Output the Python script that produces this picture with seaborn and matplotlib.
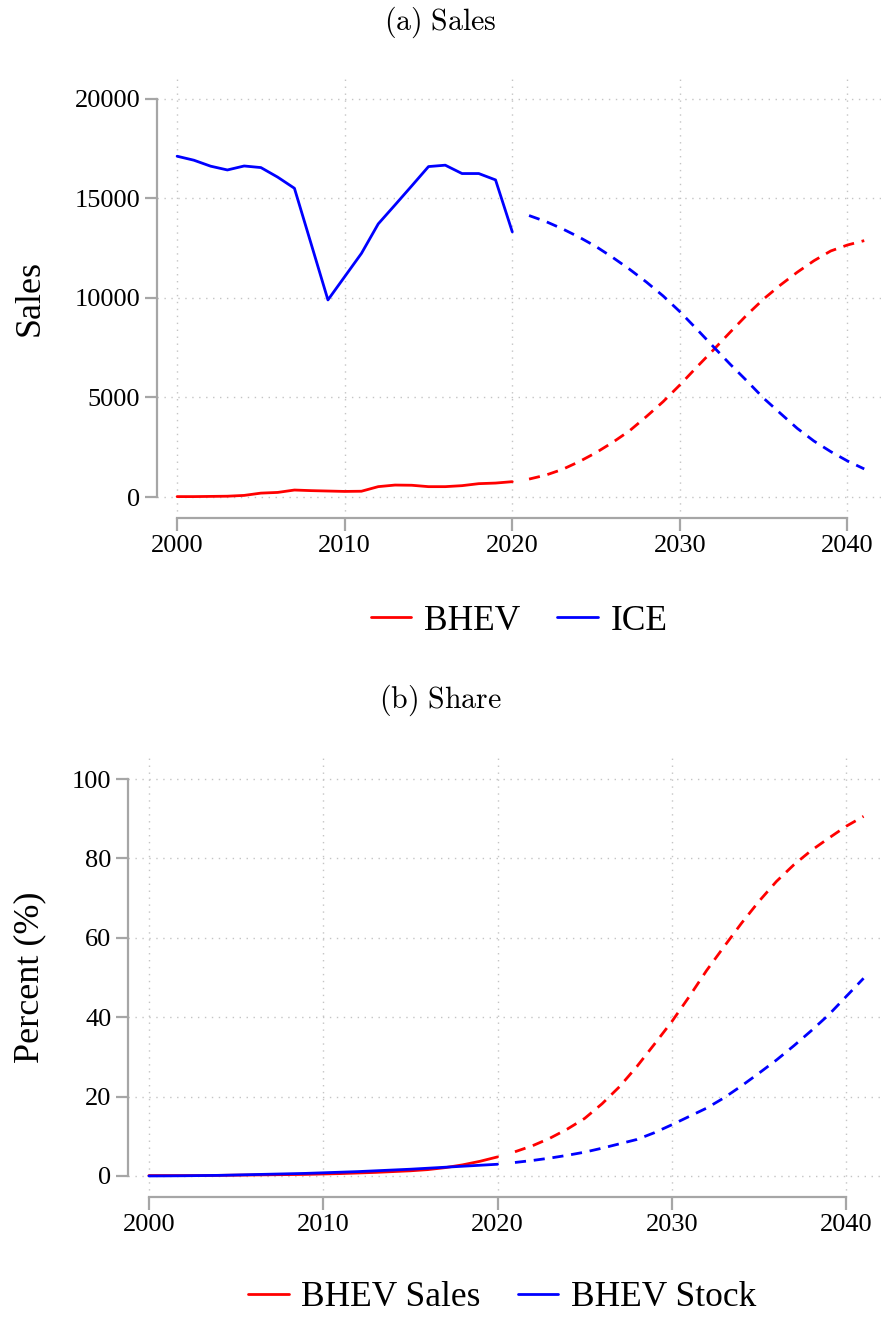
import pandas as pd
import matplotlib.pyplot as plt
import seaborn as sns

# %% data
years_hist = list(range(2000, 2021))
years_proj = list(range(2021, 2042))

bhev_sales_hist = [20, 20, 30, 40, 80, 195, 230, 350, 320, 300, 280, 290, 520, 600, 590,
                   520, 520, 570, 670, 700, 770]
ice_sales_hist = [17120, 16920, 16620, 16430, 16630, 16550, 16070, 15510, 12710, 9900, 11070,
                  12240, 13720, 14670, 15630, 16600, 16670, 16250, 16250, 15930, 13320]
bhev_sales_proj = [900, 1100, 1390, 1780, 2230, 2750, 3330, 4040, 4790, 5630, 6520, 7390,
                   8280, 9150, 9950, 10650, 11290, 11870, 12360, 12660, 12880]
ice_sales_proj = [14140, 13840, 13470, 13050, 12580, 12030, 11440, 10800, 10100, 9310, 8440,
                  7550, 6670, 5830, 4960, 4200, 3450, 2810, 2280, 1810, 1410]

share_sales_hist = [0.1, 0.1, 0.1, 0.1, 0.15, 0.2, 0.25, 0.3, 0.35, 0.4, 0.5, 0.6, 0.75, 0.9,
                    1.1, 1.3, 1.6, 2.1, 2.8, 3.7, 4.8]
share_stock_hist = [0.0, 0.02, 0.05, 0.1, 0.15, 0.25, 0.35, 0.45, 0.55, 0.65, 0.8, 0.95, 1.1,
                    1.3, 1.5, 1.7, 1.95, 2.2, 2.45, 2.7, 2.95]
share_sales_proj = [6.1, 7.6, 9.5, 11.8, 14.5, 18.2, 22.5, 27.6, 33.2, 38.9, 45.2, 51.8, 57.8,
                    63.7, 69.2, 74.2, 78.4, 82.0, 85.1, 88.1, 90.6]
share_stock_proj = [3.4, 3.9, 4.5, 5.2, 6.0, 7.0, 8.1, 9.2, 10.9, 12.9, 15.0, 17.1, 19.7,
                    22.7, 25.9, 29.2, 32.8, 36.6, 40.6, 45.2, 49.8]


def long_df(years, a, b, name_a, name_b):
    return pd.DataFrame({
        "year": years + years,
        "value": a + b,
        "series": [name_a] * len(a) + [name_b] * len(b),
    })


sales_hist = long_df(years_hist, bhev_sales_hist, ice_sales_hist, "BHEV", "ICE")
sales_proj = long_df(years_proj, bhev_sales_proj, ice_sales_proj, "BHEV", "ICE")
share_hist = long_df(years_hist, share_sales_hist, share_stock_hist, "BHEV Sales", "BHEV Stock")
share_proj = long_df(years_proj, share_sales_proj, share_stock_proj, "BHEV Sales", "BHEV Stock")

# %% style
sns.set_style("white")
plt.rcParams["font.family"] = ["Liberation Serif", "DejaVu Serif"]
plt.rcParams["mathtext.fontset"] = "cm"
plt.rcParams["text.color"] = "black"
plt.rcParams["axes.labelcolor"] = "black"
plt.rcParams["xtick.color"] = "black"
plt.rcParams["ytick.color"] = "black"

SPINE = "#a6a6a6"
GRID = "#c4c4c4"
LW = 2.0

fig = plt.figure(figsize=(8.81, 13.17), dpi=100)
ax1 = fig.add_axes([157 / 881, 1 - 518 / 1317, 1 - 157 / 881, 440 / 1317])
ax2 = fig.add_axes([128 / 881, 1 - 1197 / 1317, 1 - 128 / 881, 439 / 1317])


def draw(ax, hist, proj, names, ylim, yticks, ylabel, label_x, leg_xy):
    pal = {names[0]: "red", names[1]: "blue"}
    sns.lineplot(data=hist, x="year", y="value", hue="series", palette=pal, lw=LW, ax=ax)
    sns.lineplot(data=proj, x="year", y="value", hue="series", palette=pal, lw=LW, ax=ax,
                 legend=False)
    for ln in ax.lines[-2:]:
        ln.set_linestyle((0, (4, 2.8)))
    ax.set_xlim(1998.8, 2042)
    ax.set_ylim(*ylim)
    ax.set_xticks([2000, 2010, 2020, 2030, 2040])
    ax.set_yticks(yticks)
    ax.grid(True, color=GRID, linestyle=(0, (1, 4)), lw=1)
    for s in ["top", "right"]:
        ax.spines[s].set_visible(False)
    ax.spines["left"].set_bounds(yticks[0], yticks[-1])
    ax.spines["bottom"].set_bounds(2000, 2040)
    for s in ["left", "bottom"]:
        ax.spines[s].set_color(SPINE)
        ax.spines[s].set_linewidth(1.6)
    ax.tick_params(axis="both", which="major", direction="out", length=9, width=1.6,
                   color=SPINE, labelcolor="black", labelsize=19, pad=3, left=True, bottom=True)
    ax.set_xlabel("")
    ax.set_ylabel(ylabel, fontsize=26)
    ax.yaxis.set_label_coords(label_x, 0.5)
    ax.legend(loc="center", bbox_to_anchor=leg_xy, bbox_transform=fig.transFigure,
              ncol=2, frameon=False, fontsize=25.5, handlelength=1.15, handletextpad=0.35,
              columnspacing=1.05)


draw(ax1, sales_hist, sales_proj, ["BHEV", "ICE"], (-1055, 21050),
     [0, 5000, 10000, 15000, 20000], "Sales", -0.152, (519 / 881, 1 - 621 / 1317))
draw(ax2, share_hist, share_proj, ["BHEV Sales", "BHEV Stock"], (-5.3, 105.3),
     [0, 20, 40, 60, 80, 100], "Percent (%)", -0.109, (502 / 881, 1 - 1298 / 1317))

fig.text(0.5, 1 - 22 / 1317, r"$\mathrm{(a)\ Sales}$", ha="center", va="center", fontsize=21.5)
fig.text(0.5, 1 - 700 / 1317, r"$\mathrm{(b)\ Share}$", ha="center", va="center", fontsize=21.5)

fig.savefig("out.png", dpi=100)
